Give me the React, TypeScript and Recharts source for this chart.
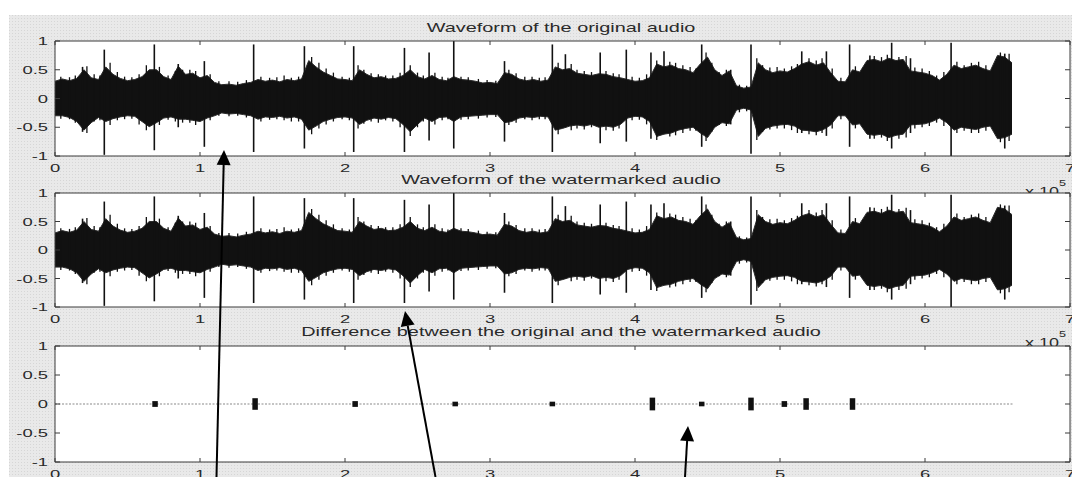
import React from 'react';
import {
  ComposedChart,
  Area,
  Line,
  Scatter,
  ErrorBar,
  XAxis,
  YAxis,
  ReferenceLine,
  CartesianGrid,
} from 'recharts';

// ---------- data (x in units of 10^5 samples, amplitude in [-1, 1]) ----------
const X_TICKS = [0, 1, 2, 3, 4, 5, 6, 7];
const Y_TICKS = [-1, -0.5, 0, 0.5, 1];

const TITLES = [
  'Waveform of the original audio',
  'Waveform of the watermarked audio',
  'Difference between the original and the watermarked audio',
];

// envelope of the waveform, sampled every ENV_STEP (x 10^5 samples)
const ENV_STEP = 0.05;
const ENV_HI = [
  0.30, 0.34, 0.31, 0.35, 0.50, 0.36, 0.33, 0.55, 0.42, 0.35,
  0.31, 0.33, 0.38, 0.50, 0.50, 0.38, 0.33, 0.56, 0.42, 0.44,
  0.36, 0.40, 0.28, 0.24, 0.25, 0.23, 0.26, 0.28, 0.33, 0.30,
  0.32, 0.29, 0.33, 0.31, 0.34, 0.66, 0.55, 0.46, 0.40, 0.34,
  0.33, 0.31, 0.50, 0.42, 0.36, 0.38, 0.34, 0.35, 0.40, 0.50,
  0.38, 0.34, 0.40, 0.33, 0.31, 0.38, 0.33, 0.32, 0.30, 0.27,
  0.28, 0.26, 0.45, 0.42, 0.34, 0.31, 0.33, 0.30, 0.32, 0.55,
  0.50, 0.52, 0.44, 0.42, 0.40, 0.43, 0.42, 0.38, 0.36, 0.33,
  0.30, 0.31, 0.36, 0.60, 0.55, 0.58, 0.52, 0.50, 0.45, 0.60,
  0.72, 0.50, 0.40, 0.48, 0.22, 0.18, 0.20, 0.62, 0.50, 0.45,
  0.48, 0.46, 0.52, 0.60, 0.64, 0.58, 0.62, 0.45, 0.30, 0.29,
  0.50, 0.46, 0.66, 0.68, 0.64, 0.70, 0.66, 0.68, 0.48, 0.46,
  0.44, 0.40, 0.32, 0.42, 0.58, 0.52, 0.55, 0.58, 0.52, 0.48,
  0.75, 0.72, 0.62,
];
const ENV_LO = [
  -0.30, -0.30, -0.33, -0.40, -0.55, -0.42, -0.33, -0.40, -0.35, -0.32,
  -0.30, -0.31, -0.40, -0.49, -0.42, -0.34, -0.32, -0.36, -0.36, -0.38,
  -0.40, -0.34, -0.30, -0.25, -0.27, -0.26, -0.28, -0.30, -0.36, -0.32,
  -0.33, -0.31, -0.34, -0.32, -0.36, -0.55, -0.48, -0.40, -0.36, -0.33,
  -0.32, -0.34, -0.45, -0.38, -0.34, -0.36, -0.33, -0.35, -0.45, -0.58,
  -0.45, -0.34, -0.40, -0.33, -0.32, -0.40, -0.32, -0.31, -0.30, -0.29,
  -0.28, -0.28, -0.42, -0.40, -0.34, -0.32, -0.33, -0.31, -0.32, -0.55,
  -0.52, -0.48, -0.46, -0.48, -0.45, -0.50, -0.48, -0.50, -0.45, -0.34,
  -0.31, -0.32, -0.40, -0.66, -0.62, -0.60, -0.55, -0.52, -0.50, -0.60,
  -0.68, -0.50, -0.42, -0.44, -0.20, -0.17, -0.20, -0.66, -0.52, -0.48,
  -0.46, -0.45, -0.48, -0.55, -0.56, -0.58, -0.54, -0.46, -0.30, -0.30,
  -0.46, -0.44, -0.62, -0.64, -0.62, -0.68, -0.64, -0.62, -0.46, -0.45,
  -0.44, -0.40, -0.34, -0.42, -0.55, -0.50, -0.52, -0.54, -0.50, -0.48,
  -0.70, -0.68, -0.62,
];

// transient spikes (position, peak, trough)
const SPIKE_X = [
  0.19, 0.34, 0.685, 0.85, 1.03, 1.37, 1.72, 2.06, 2.41, 2.58, 2.75, 3.10,
  3.43, 3.52, 3.76, 3.94, 4.11, 4.20, 4.46, 4.66, 4.80, 5.15, 5.32, 5.48,
  5.62, 5.77, 5.90, 6.18, 6.55,
];
const SPIKE_HI = [
  0.55, 0.85, 0.94, 0.60, 0.65, 0.94, 0.91, 0.91, 0.88, 0.80, 1.00, 0.65,
  0.94, 0.77, 0.80, 0.85, 0.80, 0.82, 0.94, 0.50, 0.94, 0.82, 0.82, 0.94,
  0.75, 0.97, 0.70, 0.97, 0.78,
];
const SPIKE_LO = [
  -0.58, -0.98, -0.90, -0.50, -0.84, -0.93, -0.87, -0.93, -0.93, -0.73, -0.87, -0.75,
  -0.93, -0.50, -0.78, -0.75, -0.70, -0.60, -0.84, -0.45, -0.96, -0.60, -0.65, -0.84,
  -0.70, -0.87, -0.60, -1.00, -0.87,
];

// short peaks that make the ragged edge of the waveform (position, peak, trough)
const HAIR_X = [
  0.04, 0.10, 0.14, 0.22, 0.27, 0.31, 0.38, 0.43, 0.48, 0.53, 0.58, 0.63,
  0.72, 0.78, 0.83, 0.88, 0.93, 0.97, 1.07, 1.13, 1.20, 1.26, 1.32, 1.42,
  1.48, 1.53, 1.58, 1.63, 1.68, 1.77, 1.82, 1.87, 1.92, 1.98, 2.03, 2.09,
  2.13, 2.18, 2.23, 2.28, 2.33, 2.38, 2.45, 2.50, 2.54, 2.62, 2.67, 2.71,
  2.80, 2.85, 2.92, 2.98, 3.04, 3.13, 3.18, 3.24, 3.29, 3.34, 3.38, 3.47,
  3.56, 3.60, 3.65, 3.70, 3.80, 3.85, 3.89, 3.98, 4.03, 4.08, 4.15, 4.24,
  4.28, 4.33, 4.38, 4.42, 4.49, 4.53, 4.58, 4.63, 4.72, 4.77, 4.84, 4.88,
  4.93, 4.98, 5.03, 5.08, 5.12, 5.20, 5.25, 5.29, 5.36, 5.42, 5.52, 5.57,
  5.65, 5.70, 5.74, 5.82, 5.87, 5.93, 5.98, 6.03, 6.08, 6.13, 6.22, 6.27,
  6.32, 6.37, 6.42, 6.47, 6.52, 6.58,
];
const HAIR_HI = [
  0.38, 0.37, 0.40, 0.56, 0.42, 0.40, 0.62, 0.46, 0.38, 0.37, 0.42, 0.58,
  0.55, 0.40, 0.48, 0.50, 0.50, 0.48, 0.42, 0.30, 0.30, 0.29, 0.32, 0.38,
  0.36, 0.37, 0.40, 0.36, 0.38, 0.72, 0.62, 0.52, 0.45, 0.38, 0.36, 0.58,
  0.50, 0.44, 0.42, 0.40, 0.40, 0.45, 0.58, 0.45, 0.40, 0.45, 0.38, 0.36,
  0.38, 0.37, 0.34, 0.32, 0.31, 0.50, 0.44, 0.38, 0.38, 0.36, 0.37, 0.62,
  0.60, 0.50, 0.48, 0.46, 0.48, 0.44, 0.42, 0.38, 0.36, 0.42, 0.66, 0.64,
  0.62, 0.58, 0.55, 0.52, 0.80, 0.62, 0.46, 0.50, 0.24, 0.22, 0.70, 0.58,
  0.54, 0.55, 0.52, 0.56, 0.60, 0.70, 0.66, 0.70, 0.52, 0.36, 0.56, 0.52,
  0.74, 0.72, 0.76, 0.72, 0.74, 0.54, 0.52, 0.48, 0.40, 0.46, 0.64, 0.58,
  0.62, 0.64, 0.58, 0.55, 0.80, 0.78,
];
const HAIR_LO = [
  -0.35, -0.36, -0.42, -0.60, -0.40, -0.38, -0.46, -0.38, -0.36, -0.35, -0.45, -0.55,
  -0.46, -0.37, -0.40, -0.42, -0.42, -0.46, -0.38, -0.30, -0.31, -0.30, -0.33, -0.40,
  -0.37, -0.36, -0.38, -0.40, -0.40, -0.62, -0.52, -0.45, -0.40, -0.36, -0.38, -0.52,
  -0.44, -0.40, -0.42, -0.38, -0.40, -0.50, -0.65, -0.50, -0.40, -0.45, -0.38, -0.36,
  -0.37, -0.36, -0.35, -0.33, -0.32, -0.46, -0.42, -0.36, -0.38, -0.36, -0.36, -0.62,
  -0.55, -0.52, -0.54, -0.50, -0.55, -0.56, -0.52, -0.38, -0.37, -0.45, -0.72, -0.66,
  -0.64, -0.60, -0.56, -0.56, -0.74, -0.58, -0.46, -0.48, -0.24, -0.22, -0.72, -0.58,
  -0.54, -0.52, -0.52, -0.55, -0.60, -0.62, -0.64, -0.60, -0.52, -0.36, -0.52, -0.50,
  -0.70, -0.68, -0.74, -0.70, -0.68, -0.52, -0.50, -0.48, -0.42, -0.48, -0.60, -0.56,
  -0.60, -0.60, -0.56, -0.54, -0.76, -0.74,
];

// difference signal: zero line end, and bursts (position, half amplitude)
const DIFF_END = 6.61;
const DIFF_X = [0.69, 1.38, 2.07, 2.76, 3.43, 4.12, 4.46, 4.80, 5.03, 5.18, 5.50];
const DIFF_AMP = [0.05, 0.10, 0.05, 0.04, 0.04, 0.11, 0.04, 0.11, 0.05, 0.10, 0.10];

// ---------- derived tables ----------
const envData = ENV_HI.map((h, i) => ({
  x: Math.round(i * ENV_STEP * 100) / 100,
  range: [ENV_LO[i], h],
}));
const diffLine = [
  { x: 0, y: 0 },
  { x: DIFF_END, y: 0 },
];
const diffBursts = DIFF_X.map((x, i) => ({ x, y: 0, amp: DIFF_AMP[i] }));

// ---------- style ----------
const W = 1072;
const H = 477;
const FONT = '"Liberation Sans", Arial, Helvetica, sans-serif';
const AXIS = '#3a3a3a';
const INK = '#111';
const TXT = '#2a2a2a';
const STRETCH = 1.6;

const PANELS = [
  { top: 41, bottom: 156 },
  { top: 193, bottom: 307 },
  { top: 346, bottom: 462 },
];
const PLOT_LEFT = 55;
const PLOT_RIGHT = 1070;

const fmt = (v: number) => String(v);

const LeftTick = (p: any) => {
  const { x, y, payload } = p;
  return (
    <g>
      <line x1={x + 7} x2={x + 12} y1={y} y2={y} stroke={AXIS} strokeWidth={1} />
      <text
        transform={`translate(${x},${y + 4}) scale(${STRETCH},1)`}
        textAnchor="end"
        fontSize={11.5}
        fontFamily={FONT}
        fill={TXT}
      >
        {fmt(payload.value)}
      </text>
    </g>
  );
};

const RightTick = (p: any) => {
  const { x, y } = p;
  return <line x1={x - 5} x2={x} y1={y} y2={y} stroke={AXIS} strokeWidth={1} />;
};

const BottomTick = (p: any) => {
  const { x, y, payload } = p;
  return (
    <g>
      <line x1={x} x2={x} y1={y - 4} y2={y} stroke={AXIS} strokeWidth={1} />
      <text
        transform={`translate(${x},${y + 15.5}) scale(${STRETCH},1)`}
        textAnchor="middle"
        fontSize={11.5}
        fontFamily={FONT}
        fill={TXT}
      >
        {fmt(payload.value)}
      </text>
    </g>
  );
};

const TopTick = (p: any) => {
  const { x, y } = p;
  return <line x1={x} x2={x} y1={y} y2={y + 4} stroke={AXIS} strokeWidth={1} />;
};

function Axes() {
  return [
    <XAxis
      key="xb"
      xAxisId={0}
      dataKey="x"
      type="number"
      domain={[0, 7]}
      ticks={X_TICKS}
      interval={0}
      height={1}
      tickSize={0}
      tickMargin={0}
      tickLine={false}
      axisLine={{ stroke: AXIS, strokeWidth: 1 }}
      tick={<BottomTick />}
      allowDataOverflow
    />,
    <XAxis
      key="xt"
      xAxisId="top"
      orientation="top"
      dataKey="x"
      type="number"
      domain={[0, 7]}
      ticks={X_TICKS}
      interval={0}
      height={1}
      tickSize={0}
      tickMargin={0}
      tickLine={false}
      axisLine={{ stroke: AXIS, strokeWidth: 1 }}
      tick={<TopTick />}
      allowDataOverflow
    />,
    <YAxis
      key="yl"
      yAxisId={0}
      type="number"
      domain={[-1, 1]}
      ticks={Y_TICKS}
      interval={0}
      width={1}
      tickSize={0}
      tickMargin={7}
      tickLine={false}
      axisLine={{ stroke: AXIS, strokeWidth: 1 }}
      tick={<LeftTick />}
      allowDataOverflow
    />,
    <YAxis
      key="yr"
      yAxisId="right"
      orientation="right"
      type="number"
      domain={[-1, 1]}
      ticks={Y_TICKS}
      interval={0}
      width={1}
      tickSize={0}
      tickMargin={0}
      tickLine={false}
      axisLine={{ stroke: AXIS, strokeWidth: 1 }}
      tick={<RightTick />}
      allowDataOverflow
    />,
  ];
}

// every axis takes 1px, so the margins are one pixel smaller than the plot box
function margins(i: number) {
  return {
    top: PANELS[i].top - 1,
    bottom: H - PANELS[i].bottom - 1,
    left: PLOT_LEFT - 1,
    right: W - PLOT_RIGHT - 1,
  };
}

const layer: React.CSSProperties = { position: 'absolute', left: 0, top: 0 };

function WavePanel({ index }: { index: number }) {
  return (
    <div style={layer}>
      <ComposedChart width={W} height={H} data={envData} margin={margins(index)}>
        <CartesianGrid fill="#ffffff" horizontal={false} vertical={false} stroke="none" />
        {Axes()}
        <Area
          type="linear"
          dataKey="range"
          fill={INK}
          fillOpacity={1}
          stroke="#2b2b2b"
          strokeWidth={1}
          isAnimationActive={false}
          dot={false}
          activeDot={false}
        />
        {HAIR_X.map((hx, i) => (
          <ReferenceLine
            key={`h${i}`}
            segment={[
              { x: hx, y: HAIR_LO[i] },
              { x: hx, y: HAIR_HI[i] },
            ]}
            stroke={INK}
            strokeWidth={1.3}
            ifOverflow="visible"
          />
        ))}
        {SPIKE_X.map((sx, i) => (
          <ReferenceLine
            key={`s${i}`}
            segment={[
              { x: sx, y: SPIKE_LO[i] },
              { x: sx, y: SPIKE_HI[i] },
            ]}
            stroke={INK}
            strokeWidth={1.6}
            ifOverflow="visible"
          />
        ))}
      </ComposedChart>
    </div>
  );
}

const NoDot = () => null;

function DiffPanel() {
  return (
    <div style={layer}>
      <ComposedChart width={W} height={H} data={diffLine} margin={margins(2)}>
        <CartesianGrid fill="#ffffff" horizontal={false} vertical={false} stroke="none" />
        {Axes()}
        <Line
          type="linear"
          dataKey="y"
          stroke="#8a8a8a"
          strokeWidth={1.2}
          strokeDasharray="2 1.5"
          dot={false}
          activeDot={false}
          isAnimationActive={false}
        />
        <Scatter data={diffBursts} dataKey="y" shape={<NoDot />} isAnimationActive={false}>
          <ErrorBar dataKey="amp" direction="y" width={0} stroke={INK} strokeWidth={5.5} />
        </Scatter>
      </ComposedChart>
    </div>
  );
}

function Arrow({ x0, y0, x1, y1 }: { x0: number; y0: number; x1: number; y1: number }) {
  const dx = x1 - x0;
  const dy = y1 - y0;
  const len = Math.hypot(dx, dy);
  const ux = dx / len;
  const uy = dy / len;
  const L = 15;
  const Wd = 7;
  const bx = x1 - ux * L;
  const by = y1 - uy * L;
  const px = -uy;
  const py = ux;
  return (
    <g>
      <line x1={x0} y1={y0} x2={bx} y2={by} stroke="#000" strokeWidth={2} />
      <polygon
        points={`${x1},${y1} ${bx + px * Wd},${by + py * Wd} ${bx - px * Wd},${by - py * Wd}`}
        fill="#000"
      />
    </g>
  );
}

export default function App() {
  const titleBase = [31.7, 183.7, 336.2];
  return (
    <div
      style={{
        position: 'absolute',
        left: 0,
        top: 0,
        width: W,
        height: H,
        background: '#ffffff',
        overflow: 'hidden',
      }}
    >
      {/* figure background, titles and exponent notes */}
      <svg width={W} height={H} style={layer}>
        <defs>
          <pattern id="dots" width="3" height="3" patternUnits="userSpaceOnUse">
            <rect width="3" height="3" fill="#e9e9e9" />
            <rect width="1" height="1" fill="#d6d6d6" />
          </pattern>
        </defs>
        <rect x={9} y={15} width={W - 9} height={H - 15} fill="url(#dots)" />
        {TITLES.map((t, i) => (
          <text
            key={t}
            transform={`translate(561,${titleBase[i]}) scale(1.59,1)`}
            textAnchor="middle"
            fontSize={12.5}
            fontFamily={FONT}
            fill={TXT}
          >
            {t}
          </text>
        ))}
        {[0, 1].map((i) => (
          <g key={`e${i}`} fontFamily={FONT} fill={TXT}>
            <text transform={`translate(1025,${PANELS[i].bottom + 40}) scale(1.5,1)`} fontSize={12}>
              x 10
            </text>
            <text transform={`translate(1059,${PANELS[i].bottom + 30}) scale(1.4,1)`} fontSize={9}>
              5
            </text>
          </g>
        ))}
      </svg>
      <WavePanel index={0} />
      <WavePanel index={1} />
      <DiffPanel />
      <svg width={W} height={H} style={{ ...layer, pointerEvents: 'none' }}>
        <Arrow x0={216.5} y0={477} x1={224} y1={150} />
        <Arrow x0={435.5} y0={477} x1={405} y1={311} />
        <Arrow x0={685} y0={477} x1={688} y1={426} />
      </svg>
    </div>
  );
}
